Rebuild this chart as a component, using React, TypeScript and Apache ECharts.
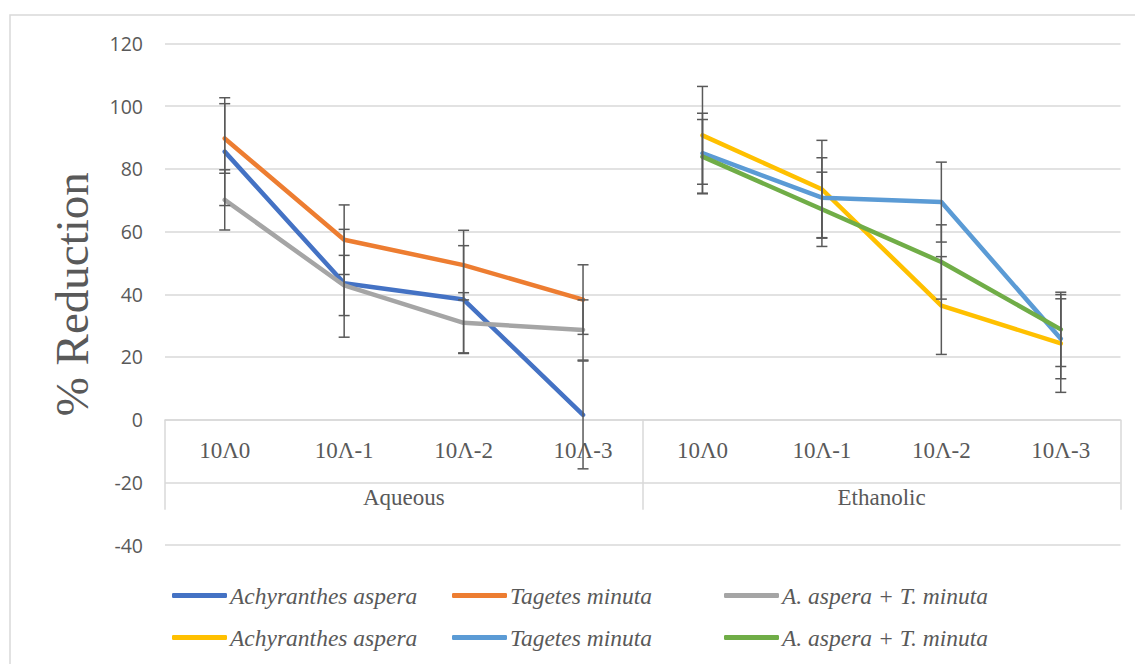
import React, { useEffect, useRef } from "react";
import * as echarts from "echarts";

// Dilution levels shown under each extract group
const doseLabels = ["10Λ0", "10Λ-1", "10Λ-2", "10Λ-3"];
const extractGroups = ["Aqueous", "Ethanolic"];
const speciesNames = ["Achyranthes aspera", "Tagetes minuta", "A. aspera + T. minuta"];

// % reduction (mean) and error (±) per dilution
const aqueousAchyranthes = [85.5, 43.5, 38.3, 1.5];
const aqueousAchyranthesErr = [17.2, 17.2, 17.2, 17.2];
const aqueousTagetes = [89.7, 57.4, 49.3, 38.3];
const aqueousTagetesErr = [11.1, 11.1, 11.1, 11.1];
const aqueousCombo = [70.1, 42.8, 30.9, 28.6];
const aqueousComboErr = [9.6, 9.6, 9.6, 9.6];

const ethanolicAchyranthes = [90.7, 73.5, 36.4, 24.3];
const ethanolicAchyranthesErr = [15.6, 15.6, 15.6, 15.6];
const ethanolicTagetes = [85.0, 70.8, 69.4, 25.8];
const ethanolicTagetesErr = [12.75, 12.75, 12.75, 12.75];
const ethanolicCombo = [83.9, 67.1, 50.3, 28.8];
const ethanolicComboErr = [11.85, 11.85, 11.85, 11.85];

const yMin = -40;
const yMax = 120;
const yStep = 20;

const lineColors = ["#4472C4", "#ED7D31", "#A5A5A5", "#FFC000", "#5B9BD5", "#70AD47"];
const textGray = "#595959";
const gridGray = "#D9D9D9";

const categories = extractGroups.flatMap(() => doseLabels);

type SeriesDef = { group: number; species: number; values: number[]; errs: number[] };

const seriesDefs: SeriesDef[] = [
  { group: 0, species: 0, values: aqueousAchyranthes, errs: aqueousAchyranthesErr },
  { group: 0, species: 1, values: aqueousTagetes, errs: aqueousTagetesErr },
  { group: 0, species: 2, values: aqueousCombo, errs: aqueousComboErr },
  { group: 1, species: 0, values: ethanolicAchyranthes, errs: ethanolicAchyranthesErr },
  { group: 1, species: 1, values: ethanolicTagetes, errs: ethanolicTagetesErr },
  { group: 1, species: 2, values: ethanolicCombo, errs: ethanolicComboErr },
];

const seriesName = (d: SeriesDef) => `${speciesNames[d.species]} (${extractGroups[d.group]})`;

// layout of the plotting area
const gridLeft = 165;
const gridRight = 14.5;
const gridTop = 43.5;
const gridBottom = 119;
const chartHeight = 664;

export default function App() {
  const ref = useRef<HTMLDivElement>(null);

  useEffect(() => {
    if (!ref.current) return;
    const chart = echarts.init(ref.current, null, { renderer: "svg" });

    // both category axes sit on the value 0 line of the y axis
    const plotHeight = chartHeight - gridTop - gridBottom;
    const zeroOffset = -(plotHeight * (0 - yMin)) / (yMax - yMin);

    const lineSeries = seriesDefs.map((d, i) => ({
      type: "line",
      name: seriesName(d),
      xAxisIndex: 0,
      yAxisIndex: 0,
      data: d.values.map((v, k) => [d.group * doseLabels.length + k, v]),
      symbol: "none",
      showSymbol: false,
      z: 2,
      lineStyle: { color: lineColors[i], width: 4.5, cap: "round", join: "round" },
      itemStyle: { color: lineColors[i] },
    }));

    const errorSeries = seriesDefs.map((d) => ({
      type: "custom",
      name: seriesName(d) + " error",
      xAxisIndex: 0,
      yAxisIndex: 0,
      z: 3,
      encode: { x: 0, y: [1, 2] },
      data: d.values.map((v, k) => [d.group * doseLabels.length + k, v - d.errs[k], v + d.errs[k]]),
      renderItem: (_params: any, api: any) => {
        const x = api.value(0);
        const top = api.coord([x, api.value(2)]);
        const bot = api.coord([x, api.value(1)]);
        const w = 5.5;
        const style = { stroke: textGray, lineWidth: 1.5 };
        return {
          type: "group",
          children: [
            { type: "line", shape: { x1: top[0], y1: top[1], x2: bot[0], y2: bot[1] }, style },
            { type: "line", shape: { x1: top[0] - w, y1: top[1], x2: top[0] + w, y2: top[1] }, style },
            { type: "line", shape: { x1: bot[0] - w, y1: bot[1], x2: bot[0] + w, y2: bot[1] }, style },
          ],
        };
      },
    }));

    const legendCols = [172, 452, 724];
    const legendRows = [584, 626];
    const legends = seriesDefs.map((d) => ({
      data: [seriesName(d)],
      left: legendCols[d.species],
      top: legendRows[d.group],
      padding: 0,
      itemGap: 0,
      icon: "roundRect",
      itemWidth: 55,
      itemHeight: 5,
      selectedMode: false,
      formatter: (name: string) => name.replace(/ \((Aqueous|Ethanolic)\)$/, ""),
      textStyle: {
        fontFamily: "Liberation Serif",
        fontStyle: "italic",
        fontSize: 23.5,
        color: textGray,
        padding: [0, 0, 0, -2],
      },
    }));

    chart.setOption({
      animation: false,
      backgroundColor: "#ffffff",
      graphic: [
        {
          type: "rect",
          silent: true,
          z: -10,
          shape: { x: 10, y: 15, width: 1200, height: 800 },
          style: { fill: "none", stroke: gridGray, lineWidth: 1.5 },
        },
      ],
      grid: { left: gridLeft, right: gridRight, top: gridTop, bottom: gridBottom, containLabel: false },
      legend: legends,
      xAxis: [
        {
          type: "category",
          data: categories,
          position: "bottom",
          offset: zeroOffset,
          boundaryGap: true,
          axisLine: { show: true, onZero: false, lineStyle: { color: gridGray, width: 1.5 } },
          axisTick: { show: false },
          axisLabel: {
            interval: 0,
            margin: 31,
            verticalAlign: "middle",
            fontFamily: "Liberation Serif",
            fontSize: 23,
            color: textGray,
          },
          splitLine: { show: false },
        },
        {
          type: "category",
          data: extractGroups,
          position: "bottom",
          offset: zeroOffset,
          boundaryGap: true,
          axisLine: { show: false, onZero: false },
          axisTick: { show: true, length: 90, lineStyle: { color: gridGray, width: 1.5 } },
          axisLabel: {
            interval: 0,
            margin: 78,
            verticalAlign: "middle",
            fontFamily: "Liberation Serif",
            fontSize: 23,
            color: textGray,
          },
          splitLine: { show: false },
        },
      ],
      yAxis: {
        type: "value",
        min: yMin,
        max: yMax,
        interval: yStep,
        name: "% Reduction",
        nameLocation: "middle",
        nameGap: 70,
        nameTextStyle: { fontFamily: "Liberation Serif", fontSize: 47, color: textGray },
        axisLine: { show: false },
        axisTick: { show: false },
        axisLabel: { margin: 22, fontFamily: "Open Sans", fontSize: 19.5, color: textGray },
        splitLine: { lineStyle: { color: gridGray, width: 1.5 } },
      },
      series: [...lineSeries, ...errorSeries],
    });

    return () => chart.dispose();
  }, []);

  return (
    <div
      ref={ref}
      style={{ position: "fixed", left: 0, top: 0, width: 1135, height: 664, background: "#ffffff" }}
    />
  );
}
